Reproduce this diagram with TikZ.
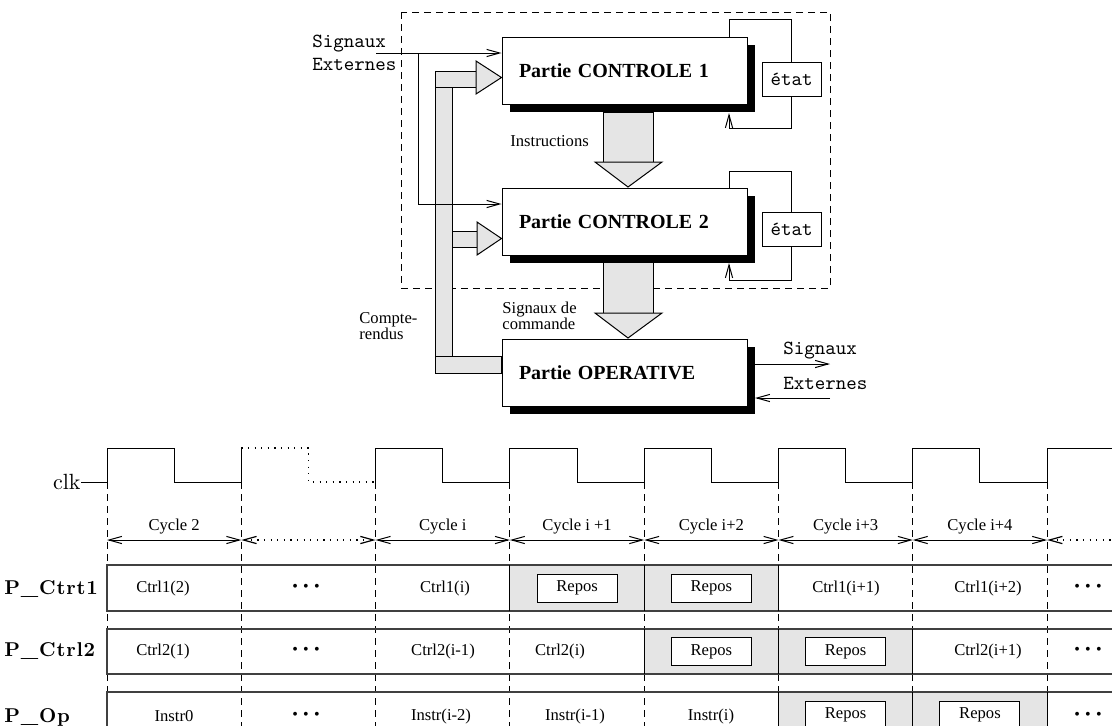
\documentclass[tikz,border=0pt]{standalone}
\usepackage{fontspec}
\setmainfont{Liberation Serif}
\newfontfamily\lmrm{lmroman10-regular}[Extension=.otf]
\newfontfamily\lmbold{lmroman10-bold}[Extension=.otf,LetterSpace=4]
\usetikzlibrary{arrows.meta,calc,shadows}
\newcommand{\tdots}{{\fontsize{8}{8}\selectfont\textbullet\hspace{2.6pt}\textbullet\hspace{2.6pt}\textbullet}}
\newcommand{\per}{134.3}

\begin{document}
\begin{tikzpicture}[x=0.5pt, y=-0.5pt,
  >={Straight Barb[length=6.5pt,width=3.6pt]},
  part/.style={draw, fill=white, line width=0.5pt, minimum height=33.5pt, text width=105.5pt, inner xsep=8.5pt, align=left, font=\bfseries, drop shadow={shadow xshift=4pt, shadow yshift=-4pt, opacity=1, fill=black}},
  etat/.style={draw, line width=0.5pt, minimum width=29.5pt, minimum height=17pt, inner sep=0pt, font=\ttfamily},
  ext/.style={font=\ttfamily, align=left, inner sep=0pt},
  lbl/.style={font=\fontsize{8.3}{8}\selectfont, align=left, inner sep=0pt},
  sig/.style={->, line width=0.5pt},
  bus/.style={draw, fill=black!10, line width=0.5pt},
  cut/.style={dash pattern=on 3.5pt off 2.5pt, line width=0.5pt},
  dotline/.style={dash pattern=on 0.6pt off 2.7pt, line width=0.6pt},
  wave/.style={line width=0.5pt},
  rowline/.style={line width=0.9pt, black!75},
  busy/.style={fill=black!10},
  repos/.style={draw, fill=white, line width=0.5pt, minimum width=40pt, minimum height=14pt, inner sep=0pt, font=\fontsize{8.3}{8}\selectfont},
  cell/.style={font=\fontsize{8.3}{8}\selectfont, inner sep=0pt},
  rowname/.style={font=\lmbold\fontsize{10}{11}\selectfont, anchor=west, inner sep=0pt}
]
\clip (0,0) rectangle (1112,725);

% --- architecture ---
\draw[cut] (401,12) rectangle (830,288);

\node[part] (ctrlA) at (624.5,70.5) {Partie CONTROLE 1};
\node[part] (ctrlB) at (624.5,221.5) {Partie CONTROLE 2};
\node[part] (oper) at (624.5,372.5) {Partie OPERATIVE};
\node[etat] (etatA) at (791.5,79) {état};
\node[etat] (etatB) at (791.5,229) {état};

% fat arrows between the parts
\foreach \ya/\yb in {112/162, 262/313} {
  \draw[bus] (603,\ya) rectangle (653,\yb);
  \draw[bus] (595,\yb) -- (662,\yb) -- (628,{\yb+25}) -- cycle;
}
\node[lbl, anchor=west] (instr) at (510,141) {Instructions};
\node[lbl, anchor=west] (cmd) at (502,316) {Signaux de\\commande};

% compte-rendus bus
\draw[bus] (435,87) rectangle (452,356);
\draw[bus] (435,71) rectangle (476,87);
\draw[bus] (476,61) -- (ctrlA.west |- 0,77.5) -- (476,94) -- cycle;
\draw[bus] (452,231) rectangle (477,247);
\draw[bus] (477,222) -- (ctrlB.west |- 0,238.5) -- (477,255) -- cycle;
\draw[bus] (435,356) rectangle (oper.west |- 0,373);
\node[lbl, anchor=west] (cr) at (359,326) {Compte-\\rendus};

% external signals
\node[ext, anchor=west, font=\ttfamily\fontsize{10}{11.5}\selectfont] (extin) at (312,53) {Signaux\\Externes};
\coordinate (extA) at (376,53);
\coordinate (brA) at (418,53);
\draw[sig] (extA) -- (extA -| ctrlA.west);
\draw[sig] (brA) |- (ctrlB.west |- 0,204);

% state loops
\coordinate (fbA) at (729,113);
\coordinate (fbB) at (729,263);
\draw[line width=0.5pt] (ctrlA.north -| fbA) -- ++(0,-17) -| (etatA.north);
\draw[sig] (etatA.south) -- ++(0,32) -| (fbA);
\draw[line width=0.5pt] (ctrlB.north -| fbB) -- ++(0,-16) -| (etatB.north);
\draw[sig] (etatB.south) -- ++(0,34) -| (fbB);

\coordinate (outA) at (755,364);
\coordinate (inA) at (755,398);
\draw[sig] (outA) -- ++(75,0);
\draw[sig] (inA) ++(75,0) -- (inA);
\node[ext, anchor=west] (sigout) at (783,351) {Signaux};
\node[ext, anchor=west] (extout) at (783,383) {Externes};

% --- chronogram ---
\node[anchor=east, inner sep=0pt, font=\lmrm\fontsize{11}{11}\selectfont] (clk) at (81,482) {clk};
\draw[wave] (clk.east) -- (107,482) -- (107,448) -- (174.2,448) -- (174.2,482) -- (241.3,482) -- (241.3,448);
\draw[wave, dotline] (241.3,448) -- (308.5,448) -- (308.5,482) -- (375.6,482);
\foreach \k in {2,...,6} {
  \pgfmathsetmacro\xa{107+\per*\k}
  \draw[wave] (\xa,482) -- (\xa,448) -- ({\xa+67.15},448) -- ({\xa+67.15},482) -- ({\xa+\per},482);
}
\draw[wave] (1047.1,482) -- (1047.1,448) -- (1120,448);

% busy cells
\foreach \ya/\yb/\ka in {565/611/3, 629/674/4, 692/738/5}
  \fill[busy] ({107+\per*\ka},\ya) rectangle ({107+\per*(\ka+2)},\yb);

\foreach \k in {0,...,7}
  \draw[cut] ({107+\per*\k},482) -- ({107+\per*\k},740);

% cycles
\foreach \k/\name in {0/Cycle 2, 2/Cycle i, 3/Cycle i +1, 4/Cycle i+2, 5/Cycle i+3, 6/Cycle i+4} {
  \draw[<->, line width=0.5pt] ({107+\per*\k},540) -- ({107+\per*(\k+1)},540);
  \node[lbl] (cy\k) at ({107+\per*(\k+0.5)},527) {\name};
}
\draw[<->, dotline] (241.3,540) -- (375.6,540);
\draw[<-, dotline] (1047.1,540) -- (1120,540);

% rows
\foreach \ya/\yb/\ka in {565/611/3, 629/674/4, 692/738/5} {
  \draw[rowline] (1120,\ya) -- (107,\ya) -- (107,\yb) -- (1120,\yb);
  \foreach \j in {0,1,2}
    \draw[line width=0.5pt] ({107+\per*(\ka+\j)},\ya) -- ({107+\per*(\ka+\j)},\yb);
}

\node[rowname] (pA) at (4,589) {P\_Ctrt1};
\node[rowname] (pB) at (4,651) {P\_Ctrl2};
\node[rowname] (pC) at (4,717) {P\_Op};

\foreach \k/\x/\txt in {0/163/Ctrl1(2), 1/306/\tdots, 2/445/Ctrl1(i), 5/846/Ctrl1(i+1), 6/988/Ctrl1(i+2), 7/1088/\tdots}
  \node[cell] (ra\k) at (\x,588) {\txt};
\foreach \k/\x/\txt in {0/163/Ctrl2(1), 1/306/\tdots, 2/443/Ctrl2(i-1), 3/560/Ctrl2(i), 6/988/Ctrl2(i+1), 7/1088/\tdots}
  \node[cell] (rb\k) at (\x,651) {\txt};
\foreach \k/\x/\txt in {0/174/Instr0, 1/306/\tdots, 2/441/Instr(i-2), 3/575/Instr(i-1), 4/711/Instr(i), 7/1088/\tdots}
  \node[cell] (rc\k) at (\x,716) {\txt};

\foreach \r/\y/\ka in {a/588/3, b/651.5/4, c/715/5} {
  \node[repos] (rep\r1) at ({107+\per*(\ka+0.5)},\y) {Repos};
  \node[repos] (rep\r2) at ({107+\per*(\ka+1.5)},\y) {Repos};
}
\end{tikzpicture}
\end{document}
